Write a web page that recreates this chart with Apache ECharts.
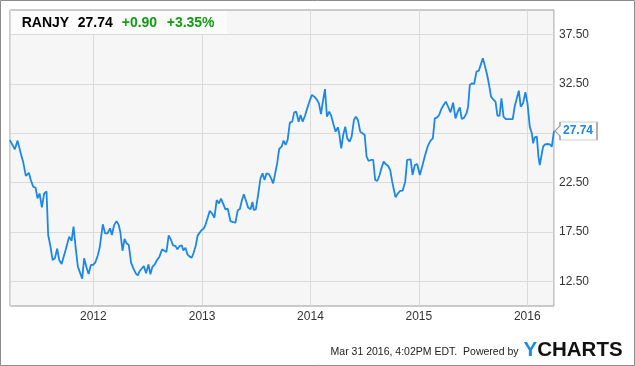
<!DOCTYPE html>
<html>
<head>
<meta charset="utf-8">
<script src="https://cdn.jsdelivr.net/npm/echarts@6/dist/echarts.min.js"></script>
<style>
  html, body { margin: 0; padding: 0; background: #fff; }
  #chart { width: 635px; height: 366px; }
</style>
</head>
<body>
<div id="chart"></div>
<script>
// ---- header values ----
const ticker = 'RANJY';
const lastPrice = '27.74';
const change = '+0.90';
const changePct = '+3.35%';
const footerText = 'Mar 31 2016, 4:02PM EDT.  Powered by';

// ---- axis ----
const xStartYear = 2011.231;
const xEndYear = 2016.246;
const yMin = 10, yMax = 40;
const yLabelValues = [12.5, 17.5, 22.5, 27.5, 32.5, 37.5];

// ---- series: dates as decimal years, prices ----
const dates = [
  2011.230,2011.276,2011.301,2011.315,2011.338,2011.352,2011.377,2011.405,2011.423,2011.445,
  2011.467,2011.485,2011.504,2011.525,2011.546,2011.568,2011.583,2011.605,2011.624,2011.645,
  2011.666,2011.685,2011.707,2011.725,2011.744,2011.758,2011.777,2011.799,2011.817,2011.839,
  2011.857,2011.875,2011.897,2011.915,2011.937,2011.956,2011.977,2011.998,
  2012.017,2012.039,2012.057,2012.072,2012.087,2012.108,2012.130,2012.154,2012.170,2012.191,
  2012.213,2012.234,2012.248,2012.268,2012.287,2012.305,2012.326,2012.347,2012.369,2012.390,
  2012.409,2012.427,2012.445,2012.464,2012.485,2012.507,2012.525,2012.544,2012.565,2012.586,
  2012.608,2012.632,2012.650,2012.672,2012.693,2012.712,2012.733,2012.755,2012.773,2012.794,
  2012.813,2012.828,2012.847,2012.865,2012.886,2012.905,2012.923,2012.941,2012.960,2012.978,2012.996,
  2013.015,2013.033,2013.052,2013.070,2013.092,2013.114,2013.135,2013.156,2013.175,2013.193,
  2013.216,2013.237,2013.262,2013.286,2013.308,2013.329,2013.348,2013.366,2013.385,2013.403,
  2013.425,2013.447,2013.465,2013.477,2013.496,2013.517,2013.539,2013.558,2013.576,2013.595,
  2013.619,2013.637,2013.656,2013.674,2013.693,2013.711,2013.734,2013.752,2013.771,2013.789,
  2013.810,2013.832,2013.850,2013.869,2013.891,2013.909,2013.928,2013.949,2013.970,2013.993,
  2014.014,2014.035,2014.057,2014.078,2014.097,2014.112,2014.134,2014.152,2014.173,2014.192,
  2014.214,2014.232,2014.253,2014.265,2014.284,2014.302,2014.321,2014.339,2014.361,2014.380,
  2014.401,2014.419,2014.438,2014.459,2014.477,2014.500,2014.518,2014.536,2014.558,2014.579,
  2014.597,2014.616,2014.638,2014.656,2014.675,2014.696,2014.717,2014.736,2014.754,2014.770,
  2014.785,2014.806,2014.828,2014.850,2014.874,2014.892,2014.924,2014.942,2014.963,2014.984,
  2015.009,2015.034,2015.058,2015.083,2015.108,2015.129,2015.147,2015.169,2015.187,2015.206,
  2015.228,2015.249,2015.267,2015.292,2015.316,2015.338,2015.359,2015.378,2015.396,2015.418,
  2015.440,2015.454,2015.470,2015.491,2015.510,2015.532,2015.553,2015.569,2015.590,2015.611,
  2015.630,2015.648,2015.666,2015.685,2015.707,2015.725,2015.744,2015.762,2015.781,2015.802,
  2015.823,2015.845,2015.866,2015.885,2015.903,2015.922,2015.940,2015.961,2015.983,
  2016.002,2016.023,2016.042,2016.054,2016.069,2016.088,2016.103,2016.115,2016.127,2016.146,
  2016.164,2016.186,2016.208,2016.226,2016.246
];
const prices = [
  26.8,25.88,26.76,26.9,25.14,24.63,23.18,23.5,22.77,22.1,
  21.99,20.9,21.4,20.0,21.4,21.6,17.2,16.0,14.66,14.83,
  15.8,14.66,14.26,14.09,15.68,15.5,17.03,16.6,18.04,15.68,
  13.99,13.82,12.77,14.83,13.9,13.25,14.16,14.16,
  14.4,15.07,15.85,17.03,18.28,17.36,17.36,17.87,17.2,18.2,
  18.6,18.2,17.5,15.6,16.8,16.35,16.18,14.39,13.78,13.31,
  13.1,13.55,13.55,14.05,13.31,14.22,13.21,13.99,14.22,14.66,
  15.0,15.74,15.57,15.47,17.16,16.76,16.15,16.08,15.74,16.08,
  16.15,15.64,15.91,15.24,15.0,14.9,15.4,16.08,17.16,17.23,17.7,
  17.84,18.28,18.95,19.63,19.39,18.95,20.74,20.4,20.88,20.98,
  19.8,19.86,18.61,18.51,18.45,19.7,19.8,20.64,21.32,20.74,
  19.97,19.8,20.54,19.73,19.8,21.25,22.94,23.45,22.77,23.45,
  23.34,22.94,22.43,22.5,24.46,25.91,26.15,26.76,26.32,26.82,
  28.58,28.68,29.63,29.7,28.68,29.36,28.68,29.26,30.03,30.81,
  31.39,31.22,30.95,30.54,29.46,30.54,31.99,29.19,29.7,29.26,
  28.34,27.67,28.11,27.5,25.98,27.33,28.18,26.99,26.66,27.16,
  28.85,29.19,28.85,27.67,27.5,27.33,25.14,24.7,24.8,24.8,
  22.77,22.67,23.28,24.02,24.63,24.36,24.19,23.78,22.6,21.76,
  21.01,21.42,21.66,21.69,22.6,24.8,24.86,23.28,24.29,24.39,
  23.28,24.29,25.3,26.22,26.76,26.99,29.02,29.12,29.36,29.93,
  30.37,30.71,30.27,29.63,30.61,29.02,29.7,30.14,28.95,29.09,
  29.53,30.2,32.4,32.57,32.5,33.75,33.85,33.85,35.1,34.26,
  33.41,32.4,31.22,30.95,30.71,29.29,29.26,31.05,29.19,28.95,
  28.95,28.95,28.95,30.27,30.37,31.82,30.2,30.54,31.66,
  30.54,28.18,27.5,26.49,27.1,27.16,25.14,24.29,24.19,26.15,
  26.39,26.42,26.39,26.15,27.74
];

// ---- helpers ----
function yearToTime(y) {
  const yr = Math.floor(y);
  const s = Date.UTC(yr, 0, 1), e = Date.UTC(yr + 1, 0, 1);
  return s + (y - yr) * (e - s);
}
const seriesData = dates.map((d, i) => [yearToTime(d), prices[i]]);
const last = seriesData[seriesData.length - 1];

const FONT = 'Liberation Sans, Arial, sans-serif';
const chart = echarts.init(document.getElementById('chart'), null, { renderer: 'canvas' });

const option = {
  useUTC: true,
  animation: false,
  backgroundColor: '#ffffff',
  grid: {
    left: 10, top: 10, right: 81, bottom: 60,
    show: true, backgroundColor: '#f6f6f6', borderColor: '#9a9a9a', borderWidth: 1
  },
  xAxis: {
    type: 'time',
    min: yearToTime(xStartYear),
    max: yearToTime(xEndYear),
    splitNumber: 5,
    minInterval: 365 * 86400000,
    axisLine: { show: false },
    axisTick: { show: false },
    splitLine: { show: true, lineStyle: { color: '#dadada', width: 1 } },
    axisLabel: {
      color: '#333', fontSize: 12, fontFamily: FONT, margin: 5,
      formatter: function (v) {
        const d = new Date(v);
        return (d.getUTCMonth() === 0 && d.getUTCDate() === 1) ? String(d.getUTCFullYear()) : '';
      }
    }
  },
  yAxis: {
    type: 'value',
    position: 'right',
    min: yMin, max: yMax, interval: 2.5,
    axisLine: { show: false },
    axisTick: { show: false },
    splitLine: { show: true, lineStyle: { color: ['rgba(0,0,0,0)', '#dadada'], width: 1 } },
    axisLabel: {
      color: '#333', fontSize: 12, fontFamily: FONT, margin: 5,
      formatter: function (v) {
        return yLabelValues.some(l => Math.abs(l - v) < 1e-6) ? v.toFixed(2) : '';
      }
    }
  },
  series: [{
    type: 'line',
    data: seriesData,
    showSymbol: false,
    clip: false,
    lineStyle: { color: '#1c88e5', width: 1.8 },
    itemStyle: { color: '#1c88e5' },
    markPoint: {
      silent: true,
      symbol: 'path://M0,9 L5,4 L5,0 L42,0 L42,18 L5,18 L5,14 Z',
      symbolSize: [42, 18],
      symbolOffset: [22, 0],
      itemStyle: { color: '#ffffff', borderColor: '#9a9a9a', borderWidth: 1 },
      label: {
        show: true, position: 'inside', offset: [2, 0],
        color: '#1a84e8', fontWeight: 'bold', fontSize: 12, fontFamily: FONT,
        formatter: function (p) { return Number(p.value).toFixed(2); }
      },
      data: [{ coord: last, value: last[1] }]
    }
  }],
  graphic: [
    { type: 'rect', z: 100, silent: true,
      shape: { x: 0.5, y: 0.5, width: 634, height: 365 },
      style: { fill: 'none', stroke: '#8c8c8c', lineWidth: 1 } },
    { type: 'rect', z: 100, silent: true,
      shape: { x: 11, y: 11, width: 216, height: 23 },
      style: { fill: '#fbfbfb' } },
    { type: 'text', z: 101, x: 21.7, y: 23.5, silent: true,
      style: { text: ticker, fill: '#000', font: 'bold 14px ' + FONT, verticalAlign: 'middle' } },
    { type: 'text', z: 101, x: 77.7, y: 23.5, silent: true,
      style: { text: lastPrice, fill: '#000', font: 'bold 14px ' + FONT, verticalAlign: 'middle' } },
    { type: 'text', z: 101, x: 121.7, y: 23.5, silent: true,
      style: { text: change, fill: '#139c13', font: 'bold 14px ' + FONT, verticalAlign: 'middle' } },
    { type: 'text', z: 101, x: 166.7, y: 23.5, silent: true,
      style: { text: changePct, fill: '#139c13', font: 'bold 14px ' + FONT, verticalAlign: 'middle' } },
    { type: 'text', z: 101, x: 518.5, y: 352.5, silent: true,
      style: { text: footerText, fill: '#222', font: '10.5px ' + FONT, align: 'right', verticalAlign: 'middle' } },
    { type: 'text', z: 101, x: 523.5, y: 350, silent: true,
      style: { text: '{y|Y}{c|CHARTS}', verticalAlign: 'middle',
        rich: {
          y: { fill: '#1a8ae6', fontSize: 20.5, fontWeight: 'bold', fontFamily: FONT },
          c: { fill: '#111', fontSize: 20.5, fontWeight: 'bold', fontFamily: FONT }
        } } }
  ]
};
chart.setOption(option);
</script>
</body>
</html>
